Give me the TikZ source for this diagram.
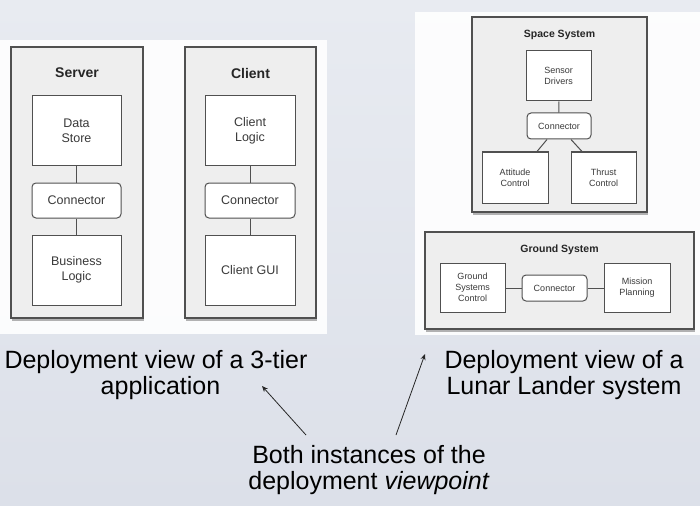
\documentclass[tikz,border=0pt]{standalone}
\usepackage{fontspec}
\setmainfont{Liberation Sans}
\usetikzlibrary{shadows,arrows.meta,calc}
\definecolor{bgtop}{HTML}{E8EBF1}
\definecolor{bgbot}{HTML}{DCE0E9}
\definecolor{outerfill}{HTML}{EEEEEE}
\definecolor{edge}{HTML}{505050}
\definecolor{txt}{HTML}{3A3A3A}
\tikzset{
  panel/.style={fill=white, draw=none, opacity=0.9},
  outerbox/.style={draw=edge, fill=outerfill, line width=1.2pt,
    drop shadow={shadow xshift=0.6pt, shadow yshift=-2.5pt, opacity=0.6}},
  compbox/.style={draw=edge, fill=white, line width=1pt, align=center,
    text=txt, inner sep=0pt},
  bigtitle/.style={font=\fontsize{14}{16}\selectfont\bfseries, text=black!85},
  smalltitle/.style={font=\fontsize{10.5}{12}\selectfont\bfseries, text=black!85},
  bigtext/.style={font=\fontsize{12.5}{15}\selectfont},
  smalltext/.style={font=\fontsize{9}{11}\selectfont},
  conn/.style={rounded corners=4pt},
  link/.style={draw=edge, line width=1pt},
  caption/.style={font=\fontsize{25}{25.5}\selectfont, text=black, align=center, inner sep=0pt},
  pointer/.style={draw=black!85, line width=0.8pt, -{Stealth[length=6pt,width=5pt]}}
}
\begin{document}
\begin{tikzpicture}[x=1pt,y=-1pt]
\useasboundingbox (0,0) rectangle (700,505);
\shade[top color=bgtop, bottom color=bgbot] (0,0) rectangle (700,505);

% white panels
\fill[panel] (0,40) rectangle (327,334);
\fill[panel] (415,12) rectangle (700,335);

% ---- 3-tier application ----
\node[outerbox, minimum width=132, minimum height=271] (server) at (77,182.5) {};
\node[bigtitle] (servert) at (77,73) {Server};
\node[compbox, bigtext, minimum width=89, minimum height=69] (ds) at (76.5,130.5) {Data\\Store};
\node[compbox, bigtext, conn, minimum width=89, minimum height=35] (c1) at (76.5,200.5) {Connector};
\node[compbox, bigtext, minimum width=89, minimum height=70] (bl) at (76.5,270) {Business\\Logic};
\draw[link] (ds) -- (c1);
\draw[link] (c1) -- (bl);

\node[outerbox, minimum width=131, minimum height=271] (client) at (250.5,182.5) {};
\node[bigtitle] (clientt) at (250.5,73) {Client};
\node[compbox, bigtext, minimum width=90, minimum height=69] (cl) at (250,130.5) {Client\\Logic};
\node[compbox, bigtext, conn, minimum width=90, minimum height=35] (c2) at (250,200.5) {Connector};
\node[compbox, bigtext, minimum width=90, minimum height=70] (gui) at (250,270) {Client GUI};
\draw[link] (cl) -- (c2);
\draw[link] (c2) -- (gui);

% ---- Lunar lander ----
\node[outerbox, minimum width=175, minimum height=195] (space) at (559.5,114.5) {};
\node[smalltitle] (spacet) at (559.5,35) {Space System};
\node[compbox, smalltext, minimum width=65, minimum height=50] (sd) at (558.5,76) {Sensor\\Drivers};
\node[compbox, smalltext, conn, minimum width=64, minimum height=26] (c3) at (559,126) {Connector};
\node[compbox, smalltext, minimum width=66, minimum height=51] (ac) at (515,177.5) {Attitude\\Control};
\node[compbox, smalltext, minimum width=65, minimum height=51] (tc) at (603.5,177.5) {Thrust\\Control};
\draw[link] (sd) -- (c3);
\draw[link] ($(c3.south)+(-12,0)$) -- ($(ac.north)+(22,0)$);
\draw[link] ($(c3.south)+(12,0)$) -- ($(tc.north)+(-21.5,0)$);

\node[outerbox, minimum width=269, minimum height=97] (ground) at (559.5,280.5) {};
\node[smalltitle] (groundt) at (559.5,250) {Ground System};
\node[compbox, smalltext, minimum width=65, minimum height=49] (gsc) at (472.5,287.5) {Ground\\Systems\\Control};
\node[compbox, smalltext, conn, minimum width=65, minimum height=26] (c4) at (554.5,288) {Connector};
\node[compbox, smalltext, minimum width=66, minimum height=49] (mp) at (637,287.5) {Mission\\Planning};
\draw[link] (gsc.east |- c4) -- (c4);
\draw[link] (c4) -- (mp.west |- c4);

% ---- captions ----
\node[caption] (capL) at (156,375) {Deployment view of a 3-tier\\\hspace*{9pt}application};
\node[caption] (capR) at (564,375) {Deployment view of a\\Lunar Lander system};
\node[caption] (capB) at (369,470) {Both instances of the\\deployment \textit{viewpoint}};

\coordinate (headL) at (262,386);
\coordinate (headR) at (425,354);
\coordinate (tailL) at (306,435);
\coordinate (tailR) at (396,435);
\draw[pointer] (tailL) -- (headL);
\draw[pointer] (tailR) -- (headR);
\end{tikzpicture}
\end{document}
